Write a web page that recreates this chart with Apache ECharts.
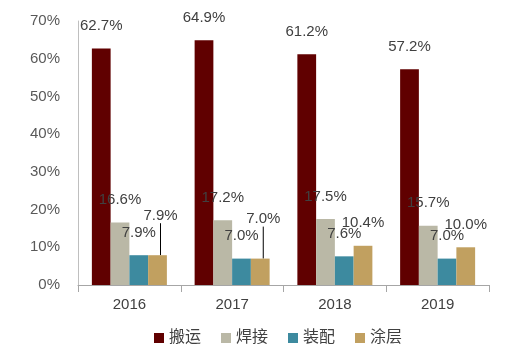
<!DOCTYPE html>
<html>
<head>
<meta charset="utf-8">
<script src="https://cdn.jsdelivr.net/npm/echarts@6/dist/echarts.min.js"></script>
<style>
  html, body { margin: 0; padding: 0; background: #fff; }
  #chart { width: 523px; height: 352px; }
</style>
</head>
<body>
<div id="chart"></div>
<script>
// 数据
const years = ['2016', '2017', '2018', '2019']
const banyun = [62.7, 64.9, 61.2, 57.2]
const hanjie = [16.6, 17.2, 17.5, 15.7]
const zhuangpei = [7.9, 7.0, 7.6, 7.0]
const tuceng = [7.9, 7.0, 10.4, 10.0]
const yTicks = [0, 10, 20, 30, 40, 50, 60, 70]

const font = '"Liberation Sans", Arial, "Noto Sans CJK SC", sans-serif'

const myChart = echarts.init(document.getElementById('chart'))

function makeSeries(name, data, color, extra) {
  return Object.assign({
    name: name,
    type: 'bar',
    data: data,
    barGap: 0,
    barCategoryGap: '27%',
    itemStyle: { color: color },
    label: {
      show: true,
      position: 'top',
      distance: 15,
      color: '#404040',
      fontSize: 15,
      fontFamily: font,
      formatter: (p) => p.value.toFixed(1) + '%',
    },
  }, extra || {})
}

// 前两年的涂层标签被挪开，带引导线
const tucengData = tuceng.map((v, i) =>
  i < 2 ? { value: v, labelLine: { show: true } } : { value: v, labelLine: { show: false } }
)

myChart.setOption({
  animation: false,
  grid: { left: 78, right: 34, top: 21, bottom: 67 },
  legend: {
    left: 154,
    top: 330,
    padding: 0,
    itemWidth: 10,
    itemHeight: 10,
    itemGap: 20,
    icon: 'rect',
    textStyle: { color: '#404040', fontSize: 16, fontFamily: font },
    data: ['搬运', '焊接', '装配', '涂层'],
  },
  xAxis: {
    type: 'category',
    data: years,
    axisLine: { lineStyle: { color: '#a6a6a6' } },
    axisTick: { show: true, length: 7, lineStyle: { color: '#a6a6a6' } },
    axisLabel: { color: '#404040', fontSize: 15, fontFamily: font, margin: 12 },
  },
  yAxis: {
    type: 'value',
    min: yTicks[0],
    max: yTicks[yTicks.length - 1],
    interval: 10,
    axisLine: { show: true, lineStyle: { color: '#bfbfbf' } },
    axisTick: { show: false },
    splitLine: { show: false },
    axisLabel: {
      color: '#595959',
      fontSize: 15,
      fontFamily: font,
      margin: 18,
      formatter: '{value}%',
    },
  },
  series: [
    makeSeries('搬运', banyun, '#600000'),
    makeSeries('焊接', hanjie, '#bab8a6'),
    makeSeries('装配', zhuangpei, '#3d8a9f'),
    makeSeries('涂层', tucengData, '#c1a060', {
      labelLine: { show: false, lineStyle: { color: '#000', width: 1 } },
      labelLayout: (params) => (params.dataIndex < 2 ? { dx: 3, dy: -17 } : {}),
    }),
  ],
})
</script>
</body>
</html>
